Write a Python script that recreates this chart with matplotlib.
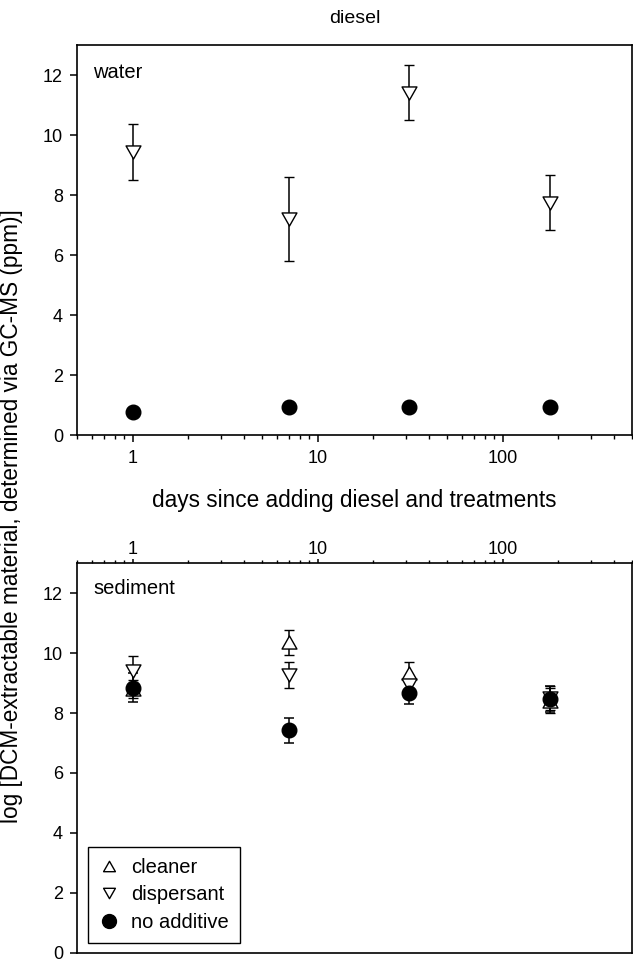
import matplotlib
matplotlib.use("Agg")
import matplotlib.pyplot as plt
from matplotlib.lines import Line2D
from matplotlib.path import Path

plt.rcParams["font.family"] = ["Liberation Sans", "DejaVu Sans"]

# sampling days (log axis)
days = [1, 7, 31, 180]

# water phase
water_disp = [9.43, 7.20, 11.41, 7.75]
water_disp_err = [0.93, 1.40, 0.92, 0.92]
water_none = [0.78, 0.92, 0.92, 0.92]

# sediment phase
sed_clean = [8.80, 10.37, 9.35, 8.42]
sed_clean_err = [0.30, 0.42, 0.35, 0.42]
sed_disp = [9.42, 9.26, 8.95, 8.50]
sed_disp_err = [0.47, 0.43, 0.30, 0.40]
sed_none = [8.85, 7.43, 8.66, 8.47]
sed_none_err = [0.48, 0.42, 0.35, 0.42]

yticks = [0, 2, 4, 6, 8, 10, 12]
xticks = [1, 10, 100]
xtick_labels = ["1", "10", "100"]

# slightly flattened open triangles (closed paths)
TRI_UP = Path([(-1, -0.88), (1, -0.88), (0, 0.88), (-1, -0.88)], closed=True)
TRI_DN = Path([(-1, 0.88), (1, 0.88), (0, -0.88), (-1, 0.88)], closed=True)

FS_TICK = 13
FS_LAB = 16.3
MS_TRI = 10.7
MS_DOT = 10.5
EB = dict(ecolor="black", elinewidth=1.1, capsize=3.4, capthick=1.1, linestyle="none")

fig = plt.figure(figsize=(6.33, 9.6), dpi=100)
ax1 = fig.add_axes([0.1216, 0.546875, 0.8768, 0.40625])
ax2 = fig.add_axes([0.1216, 0.0076, 0.8768, 0.4056])


def style(ax, top):
    ax.set_xscale("log")
    ax.set_xlim(0.5, 500)
    ax.set_ylim(0, 13)
    ax.set_yticks(yticks)
    ax.set_xticks(xticks)
    ax.set_xticklabels(xtick_labels)
    for s in ax.spines.values():
        s.set_linewidth(1.2)
    ax.tick_params(axis="y", direction="out", length=5, width=1.1, pad=5,
                   labelsize=FS_TICK, right=False)
    if top:
        ax.xaxis.tick_top()
        ax.xaxis.set_label_position("top")
        ax.tick_params(axis="x", which="major", direction="out", length=3.2, width=1.1,
                       pad=0.8, labelsize=FS_TICK)
        ax.tick_params(axis="x", which="minor", direction="out", length=2.2, width=1.0)
    else:
        ax.xaxis.tick_bottom()
        ax.tick_params(axis="x", which="major", direction="out", length=5, width=1.1,
                       pad=6, labelsize=FS_TICK)
        ax.tick_params(axis="x", which="minor", direction="out", length=3, width=1.0)


style(ax1, top=False)
style(ax2, top=True)

# water
ax1.errorbar(days, water_disp, yerr=water_disp_err, marker=TRI_DN, ms=MS_TRI,
             mfc="white", mec="black", mew=1.0, **EB)
ax1.plot(days, water_none, "o", color="black", ms=MS_DOT, linestyle="none")
ax1.text(0.61, 12.1, "water", fontsize=14.5, va="center", ha="left")
ax1.set_title("diesel", fontsize=14, pad=16)
ax1.set_xlabel("days since adding diesel and treatments", fontsize=FS_LAB, labelpad=16)

# sediment
ax2.errorbar(days, sed_clean, yerr=sed_clean_err, marker=TRI_UP, ms=MS_TRI,
             mfc="white", mec="black", mew=1.0, **EB)
ax2.errorbar(days, sed_disp, yerr=sed_disp_err, marker=TRI_DN, ms=MS_TRI,
             mfc="white", mec="black", mew=1.0, **EB)
ax2.errorbar(days, sed_none, yerr=sed_none_err, marker="o", ms=MS_DOT,
             mfc="black", mec="black", **EB)
ax2.text(0.61, 12.15, "sediment", fontsize=14.5, va="center", ha="left")

handles = [
    Line2D([], [], marker=TRI_UP, ms=8.5, mfc="white", mec="black", mew=1.0, linestyle="none"),
    Line2D([], [], marker=TRI_DN, ms=8.5, mfc="white", mec="black", mew=1.0, linestyle="none"),
    Line2D([], [], marker="o", ms=10, color="black", linestyle="none"),
]
leg = ax2.legend(handles, ["cleaner", "dispersant", "no additive"], loc="lower left",
                 bbox_to_anchor=(0.02, 0.025), borderaxespad=0, fontsize=14.5,
                 frameon=True, fancybox=False, edgecolor="black", framealpha=1,
                 handlelength=1.0, handletextpad=0.6, labelspacing=0.42,
                 borderpad=0.55)
leg.get_frame().set_linewidth(1.0)

fig.text(0.018, 0.462, "log [DCM-extractable material, determined via GC-MS (ppm)]",
         rotation=90, ha="center", va="center", fontsize=FS_LAB)

fig.savefig("out.png", dpi=100)
